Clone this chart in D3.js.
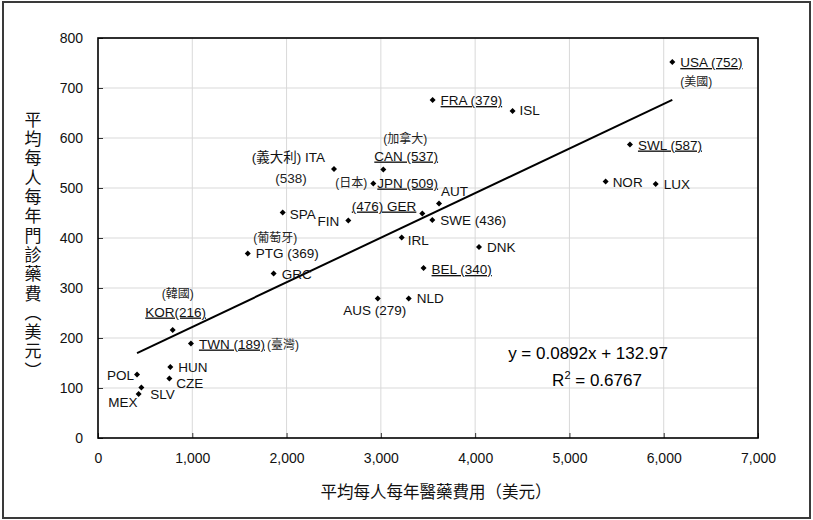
<!DOCTYPE html>
<html>
<head>
<meta charset="utf-8">
<script src="https://cdn.jsdelivr.net/npm/d3@7"></script>
<style>
  html, body { margin: 0; padding: 0; background: #fff; }
  svg { display: block; }
  text { font-family: "Liberation Sans", Arial, "Noto Sans CJK TC", sans-serif; }
</style>
</head>
<body>
<svg id="chart" width="813" height="520"></svg>
<script>
// OECD countries: per-capita medical spending vs per-capita outpatient drug spending (USD)
const countries = ["USA","SWL","NOR","LUX","FRA","ISL","CAN","ITA","JPN","GER","AUT","SWE","FIN","SPA","IRL","DNK","BEL","NLD","AUS","PTG","GRC","KOR","TWN","HUN","CZE","POL","SLV","MEX"];
const medicalSpend = [6091,5642,5384,5915,3549,4397,3026,2503,2920,3440,3617,3546,2655,1959,3221,4041,3453,3295,2967,1588,1863,792,986,767,757,414,460,431];
const drugSpend    = [752,587,513,508,676,654,537,538,509,449,469,436,435,451,401,382,340,279,279,369,329,216,189,142,119,127,101,88];
const pointLabels  = ["USA (752)","SWL (587)","NOR","LUX","FRA (379)","ISL","CAN (537)","(義大利) ITA","JPN (509)","(476) GER","AUT","SWE (436)","FIN","SPA","IRL","DNK","BEL (340)","NLD","AUS (279)","PTG (369)","GRC","KOR(216)","TWN (189)","HUN","CZE","POL","SLV","MEX"];

const xTicks = [0,1000,2000,3000,4000,5000,6000,7000];
const yTicks = [0,100,200,300,400,500,600,700,800];
const xTitle = "平均每人每年醫藥費用（美元）";
const yTitle = "平均每人每年門診藥費（美元）";

// linear trend line  y = slope * x + intercept
const slope = 0.0892, intercept = 132.97, rSquared = 0.6767;

// label placement relative to each marker (pixels)
const labelLayout = {
  USA: { dx: 8, dy: 5, ul: true, note: "(美國)", ndx: 8, ndy: 24 },
  SWL: { dx: 8, dy: 5, ul: true },
  NOR: { dx: 7, dy: 5 },
  LUX: { dx: 8, dy: 5 },
  FRA: { dx: 8, dy: 5, ul: true },
  ISL: { dx: 7, dy: 4 },
  CAN: { dx: -9, dy: -9, ul: true, note: "(加拿大)", ndx: 0, ndy: -27 },
  ITA: { dx: -9, dy: -7, anchor: "end", note: "(538)", ndx: -43, ndy: 14, nanchor: "middle", nLatin: true },
  JPN: { dx: 4, dy: 4, ul: true, note: "(日本)", ndx: -6, ndy: 3, nanchor: "end" },
  GER: { dx: -6, dy: -3, anchor: "end", ul: true },
  AUT: { dx: 2, dy: -8 },
  SWE: { dx: 8, dy: 5 },
  FIN: { dx: -9, dy: 5, anchor: "end" },
  SPA: { dx: 7, dy: 6 },
  IRL: { dx: 6, dy: 7 },
  DNK: { dx: 8, dy: 5 },
  BEL: { dx: 8, dy: 6, ul: true },
  NLD: { dx: 8, dy: 4 },
  AUS: { dx: -3, dy: 16, anchor: "middle" },
  PTG: { dx: 8, dy: 4.5, note: "(葡萄牙)", ndx: 5.5, ndy: -11.5 },
  GRC: { dx: 8, dy: 5 },
  KOR: { dx: 3, dy: -13.5, anchor: "middle", ul: true, note: "(韓國)", ndx: 5, ndy: -32.5, nanchor: "middle" },
  TWN: { dx: 8, dy: 5, ul: true, note: "(臺灣)", ndx: 76, ndy: 5 },
  HUN: { dx: 8, dy: 5 },
  CZE: { dx: 7, dy: 9 },
  POL: { dx: -3, dy: 5, anchor: "end" },
  SLV: { dx: 9, dy: 11 },
  MEX: { dx: -1, dy: 13, anchor: "end" }
};

const svg = d3.select("#chart");
const plot = { left: 98, right: 758, top: 38, bottom: 438 };

const x = d3.scaleLinear().domain([0, 7000]).range([plot.left, plot.right]);
const y = d3.scaleLinear().domain([0, 800]).range([plot.bottom, plot.top]);

// outer frame
svg.append("rect")
  .attr("x", 3).attr("y", 2).attr("width", 807).attr("height", 516)
  .attr("fill", "#fff").attr("stroke", "#3a3a3a").attr("stroke-width", 2);

// gridlines
svg.append("g").selectAll("line").data(yTicks.slice(1)).join("line")
  .attr("x1", plot.left).attr("x2", plot.right)
  .attr("y1", d => y(d)).attr("y2", d => y(d))
  .attr("stroke", "#d9d9d9").attr("stroke-width", 1);
svg.append("g").selectAll("line").data(xTicks.slice(1)).join("line")
  .attr("y1", plot.top).attr("y2", plot.bottom)
  .attr("x1", d => x(d)).attr("x2", d => x(d))
  .attr("stroke", "#d9d9d9").attr("stroke-width", 1);

// axes with inward ticks
const fmt = d3.format(",");
const yAxis = svg.append("g")
  .attr("transform", `translate(${plot.left},0)`)
  .call(d3.axisLeft(y).tickValues(yTicks).tickSizeInner(-5).tickSizeOuter(0).tickPadding(15).tickFormat(fmt));
const xAxis = svg.append("g")
  .attr("transform", `translate(0,${plot.bottom})`)
  .call(d3.axisBottom(x).tickValues(xTicks).tickSizeInner(-5).tickSizeOuter(0).tickPadding(15).tickFormat(fmt));
[yAxis, xAxis].forEach(g => {
  g.select(".domain").remove();
  g.selectAll(".tick line").attr("stroke", "#333");
  g.selectAll(".tick text").attr("font-size", 14).attr("fill", "#111")
    .attr("font-family", "'Liberation Sans', Arial, sans-serif");
});

// plot border
svg.append("rect")
  .attr("x", plot.left).attr("y", plot.top)
  .attr("width", plot.right - plot.left).attr("height", plot.bottom - plot.top)
  .attr("fill", "none").attr("stroke", "#000").attr("stroke-width", 1.6);

// axis titles
svg.append("text")
  .attr("x", (plot.left + plot.right) / 2 + 8).attr("y", 498)
  .attr("text-anchor", "middle").attr("font-size", 16.5).attr("fill", "#111")
  .attr("font-family", "'Noto Sans CJK TC', sans-serif")
  .text(xTitle);
svg.append("text")
  .attr("x", 31).attr("y", 246)
  .attr("text-anchor", "middle").attr("font-size", 17).attr("fill", "#111")
  .attr("font-family", "'Noto Sans CJK TC', sans-serif")
  .style("writing-mode", "vertical-rl")
  .style("text-orientation", "upright")
  .attr("letter-spacing", 2.3)
  .text(yTitle);

// trend line across the data range
const xMin = d3.min(medicalSpend), xMax = d3.max(medicalSpend);
svg.append("line")
  .attr("x1", x(xMin)).attr("y1", y(slope * xMin + intercept))
  .attr("x2", x(xMax)).attr("y2", y(slope * xMax + intercept))
  .attr("stroke", "#000").attr("stroke-width", 2);

// points
const pts = countries.map((c, i) => ({ c, xv: medicalSpend[i], yv: drugSpend[i], label: pointLabels[i] }));
svg.append("g").selectAll("path").data(pts).join("path")
  .attr("d", d3.symbol().type(d3.symbolSquare).size(18))
  .attr("transform", d => `translate(${x(d.xv)},${y(d.yv)}) rotate(45)`)
  .attr("fill", "#000");

// labels
const lg = svg.append("g");
pts.forEach(d => {
  const L = labelLayout[d.c];
  const px = x(d.xv), py = y(d.yv);
  lg.append("text")
    .attr("x", px + L.dx).attr("y", py + L.dy)
    .attr("text-anchor", L.anchor || "start")
    .attr("font-size", 13.5).attr("fill", "#111")
    .style("text-decoration", L.ul ? "underline" : null)
    .text(d.label);
  if (L.note) {
    lg.append("text")
      .attr("x", px + L.ndx).attr("y", py + L.ndy)
      .attr("text-anchor", L.nanchor || "start")
      .attr("font-size", L.nLatin ? 13.5 : 12).attr("fill", "#222")
      .text(L.note);
  }
});

// regression equation
svg.append("text")
  .attr("x", 588).attr("y", 359).attr("text-anchor", "middle")
  .attr("font-size", 17).attr("fill", "#000")
  .text(`y = ${slope}x + ${intercept}`);
const r2 = svg.append("text")
  .attr("x", 597).attr("y", 386).attr("text-anchor", "middle")
  .attr("font-size", 17).attr("fill", "#000");
r2.append("tspan").text("R");
r2.append("tspan").attr("font-size", 11).attr("dy", -7).text("2");
r2.append("tspan").attr("dy", 7).text(` = ${rSquared}`);
</script>
</body>
</html>
